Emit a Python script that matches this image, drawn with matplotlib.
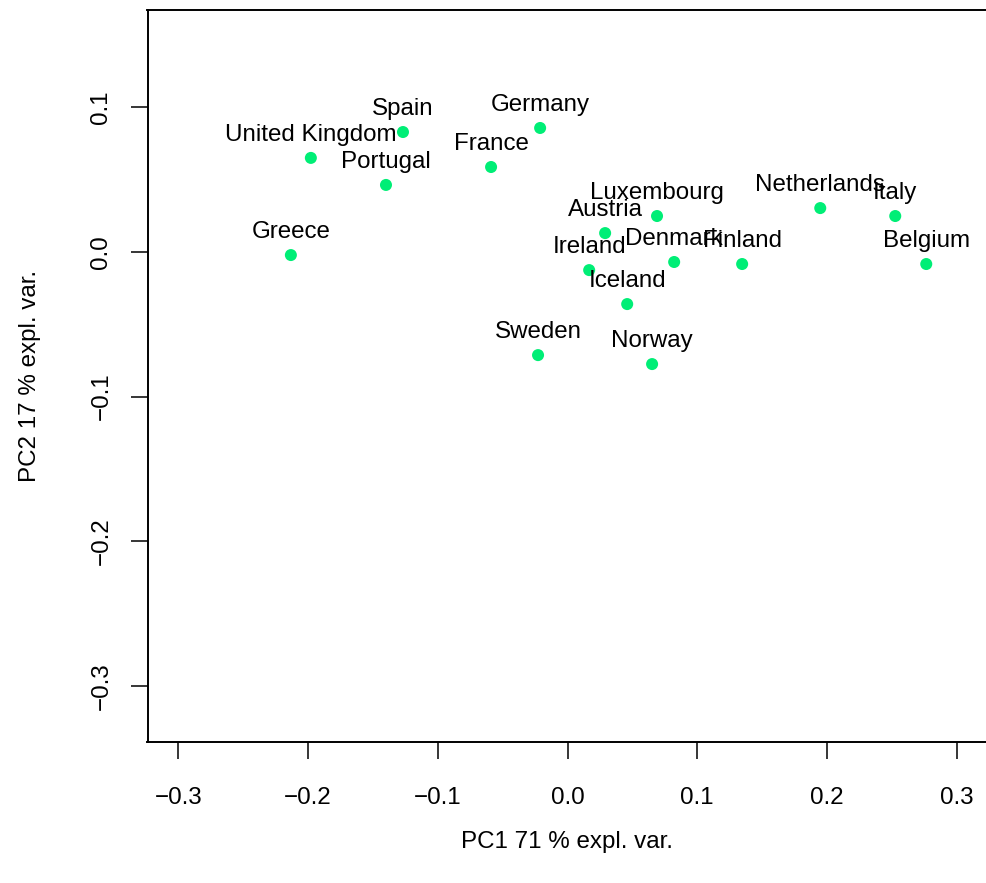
import matplotlib
matplotlib.use("Agg")
import matplotlib.pyplot as plt

# PCA scores
countries = ["Greece", "United Kingdom", "Spain", "Portugal", "France", "Germany",
             "Sweden", "Ireland", "Austria", "Luxembourg", "Iceland", "Denmark",
             "Norway", "Finland", "Netherlands", "Italy", "Belgium"]
pc1 = [-0.2132, -0.1978, -0.1268, -0.1399, -0.0589, -0.0211,
       -0.0227, 0.0167, 0.0290, 0.0690, 0.0460, 0.0822,
       0.0652, 0.1346, 0.1948, 0.2526, 0.2765]
pc2 = [-0.0021, 0.0651, 0.0830, 0.0464, 0.0588, 0.0858,
       -0.0713, -0.0125, 0.0131, 0.0249, -0.0360, -0.0069,
       -0.0775, -0.0083, 0.0304, 0.0249, -0.0083]

x_ticks = [-0.3, -0.2, -0.1, 0.0, 0.1, 0.2, 0.3]
y_ticks = [-0.3, -0.2, -0.1, 0.0, 0.1]


def fmt(v):
    return ("%.1f" % v).replace("-", "\u2212")


plt.rcParams['font.family'] = ['Liberation Sans', 'DejaVu Sans']

W, H = 986, 883
fig = plt.figure(figsize=(W / 100, H / 100), dpi=100)
left, right, top, bottom = 147.5, 987.5, 10, 742
ax = fig.add_axes([left / W, 1 - bottom / H, (right - left) / W, (bottom - top) / H])

ax.scatter(pc1, pc2, s=75, color="#00EE76", edgecolors="none", zorder=3)
for name, x, y in zip(countries, pc1, pc2):
    ax.annotate(name, (x, y), xytext=(0, 16.8), textcoords="offset points",
                ha="center", va="center", fontsize=17.4, color="black")

ax.set_xlim(-0.3237, 0.3237)
ax.set_ylim(-0.3389, 0.1674)
ax.set_xticks(x_ticks)
ax.set_xticklabels([fmt(v) for v in x_ticks])
ax.set_yticks(y_ticks)
ax.set_yticklabels([fmt(v) for v in y_ticks], rotation=90, va="center")

for sp in ax.spines.values():
    sp.set_linewidth(1.4)
ax.tick_params(length=12.2, width=1.1, pad=20, labelsize=17.4)
ax.tick_params(axis="y", pad=13)

fig.text(567 / W, 1 - 842 / H, "PC1 71 % expl. var.", ha="center", va="center", fontsize=17.4)
fig.text(30 / W, 1 - 376 / H, "PC2 17 % expl. var.", ha="center", va="center",
         rotation=90, fontsize=17.4)

fig.savefig("out.png", dpi=100)
